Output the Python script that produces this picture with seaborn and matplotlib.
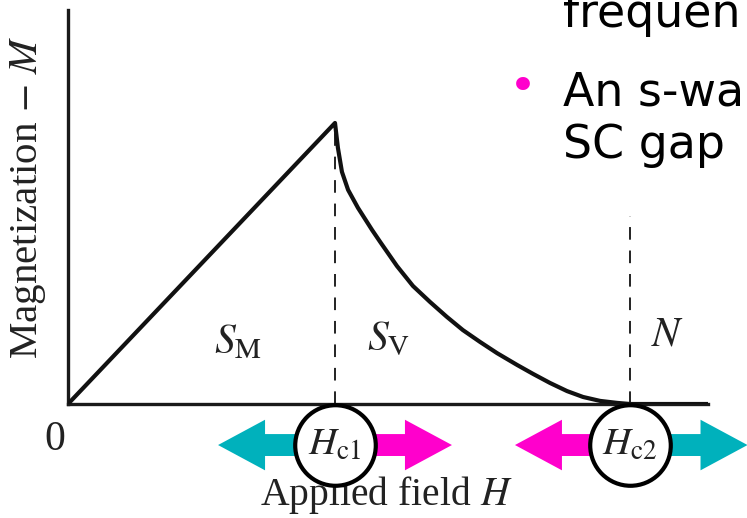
import numpy as np
import matplotlib
matplotlib.use("Agg")
import matplotlib.pyplot as plt
import seaborn as sns

# =====================================================
# DATA
# =====================================================

# magnetization curve, field in units of Hc1, M in units of the peak
H_field = [0.0, 1.000, 1.011, 1.026, 1.049, 1.086, 1.139, 1.169, 1.232,
           1.292, 1.356, 1.419, 1.479, 1.543, 1.607, 1.682, 1.742, 1.805,
           1.869, 1.929, 1.993, 2.056, 2.105, 2.397]
magnetization = [0.0, 1.000, 0.911, 0.826, 0.762, 0.698, 0.619, 0.577, 0.491,
                 0.420, 0.363, 0.310, 0.263, 0.221, 0.181, 0.139, 0.107, 0.075,
                 0.046, 0.025, 0.011, 0.004, 0.0, 0.0]

critical_fields = [1.0, 2.105]
critical_labels = [r"$H_{\rm c1}$", r"$H_{\rm c2}$"]
dash_tops = [0.98, 0.67]

region_labels = [r"$S_{\rm M}$", r"$S_{\rm V}$", r"$N$"]
region_x = [0.637, 1.199, 2.247]
region_y = [0.217, 0.228, 0.246]

# slide text, cropped at the right edge as in the reference
slide_lines = ["frequen", "An s-wa", "SC gap"]

# =====================================================
# STYLE
# =====================================================

sns.set_theme(style="white")
plt.rcParams["font.family"] = ["Liberation Serif", "DejaVu Serif"]
plt.rcParams["mathtext.fontset"] = "stix"

TEAL = "#00b1bc"
MAGENTA = "#ff00cc"
INK = "#111111"
TEXT = "#222222"

fig = plt.figure(figsize=(7.47, 5.18), dpi=100)
ax = fig.add_axes([68 / 747, 114 / 518, 640 / 747, 394 / 518])

# =====================================================
# CURVE
# =====================================================

sns.lineplot(x=H_field, y=magnetization, ax=ax, color=INK, linewidth=3,
             sort=False, zorder=4)

ax.vlines(critical_fields, 0, dash_tops, colors=INK, linewidth=1.3,
          linestyles=[(0, (7, 6))])

for lab, x, y in zip(region_labels, region_x, region_y):
    ax.text(x, y, lab, fontsize=30, ha="center", va="center", color=TEXT)

ax.set_xlim(0, 2.397)
ax.set_ylim(0, 1.402)
ax.set_xticks([])
ax.set_yticks([])
for side in ["top", "right"]:
    ax.spines[side].set_visible(False)
for side in ["left", "bottom"]:
    ax.spines[side].set_color("#1a1a1a")
    ax.spines[side].set_linewidth(2.4)

ax.set_xlabel(r"Applied field $H$", fontsize=28.5, color=TEXT, va="center")
ax.xaxis.set_label_coords(0.497, -0.231)
ax.set_ylabel(r"Magnetization $-$ $M$", fontsize=29.5, color=TEXT, va="center")
ax.yaxis.set_label_coords(-0.062, 0.525)

ax.text(-0.01, -0.128, "0", fontsize=30, ha="right", va="center",
        color=TEXT, clip_on=False)

# =====================================================
# CRITICAL FIELD MARKERS (circles + arrows)
# =====================================================

ARROW_Y = -0.146
arrow_kw = dict(width=0.078, head_width=0.18, head_length=0.176,
                length_includes_head=True, clip_on=False, zorder=3,
                linewidth=0)

# Hc1: teal to the left, magenta to the right
ax.arrow(critical_fields[0], ARROW_Y, -0.438, 0, color=TEAL, **arrow_kw)
ax.arrow(critical_fields[0], ARROW_Y, 0.438, 0, color=MAGENTA, **arrow_kw)
# Hc2: magenta to the left, teal to the right
ax.arrow(critical_fields[1], ARROW_Y, -0.431, 0, color=MAGENTA, **arrow_kw)
ax.arrow(critical_fields[1], ARROW_Y, 0.44, 0, color=TEAL, **arrow_kw)

for hc, lab in zip(critical_fields, critical_labels):
    ax.plot([hc], [ARROW_Y], marker="o", markersize=58, markerfacecolor="white",
            markeredgecolor="black", markeredgewidth=3, clip_on=False, zorder=5)
    ax.text(hc, ARROW_Y, lab, fontsize=28, ha="center", va="center",
            color=TEXT, zorder=6, clip_on=False)

# =====================================================
# SLIDE TEXT
# =====================================================

slide_font = ["DejaVu Sans"]
baselines = [27, 105, 158]
for line, yb in zip(slide_lines, baselines):
    fig.text(563 / 747, 1 - yb / 518, line, fontsize=33, family=slide_font,
             color="black", va="baseline")
fig.text(523 / 747, 1 - 88 / 518, "\u2022", fontsize=34, family=slide_font,
         color=MAGENTA, ha="center", va="center")

fig.savefig("out.png", dpi=100)
